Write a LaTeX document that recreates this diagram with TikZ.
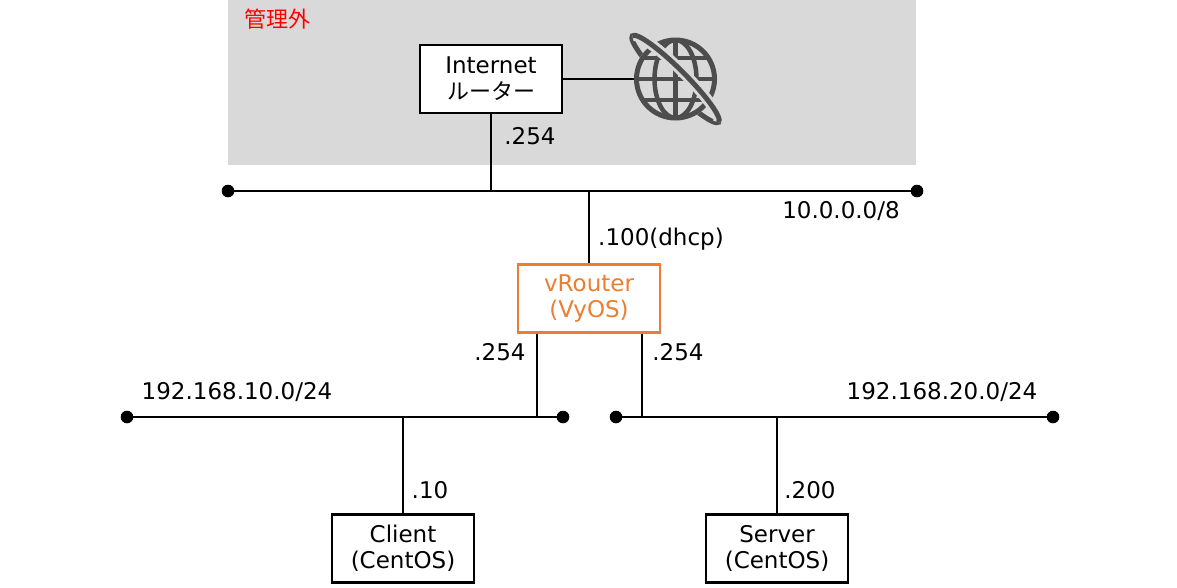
\documentclass[tikz,border=0pt]{standalone}
\usepackage{fontspec}
\setmainfont{DejaVu Sans}
\newfontfamily\cjk{Noto Sans CJK JP}
\definecolor{bggray}{HTML}{D9D9D9}
\definecolor{vyorange}{HTML}{ED7D31}
\definecolor{icongray}{HTML}{4D4D4D}
\tikzset{
  devbox/.style={draw, line width=2.4pt, fill=white, minimum width=142pt, minimum height=68pt, inner sep=0pt, align=center},
  net/.style={line width=1.3pt},
  lbl/.style={inner sep=0pt},
  iconline/.style={draw=icongray, line width=4.5pt}
}
\begin{document}
\begin{tikzpicture}[x=1pt,y=-1pt, font=\fontsize{23}{26}\selectfont]
\useasboundingbox (0,0) rectangle (1177,587);
\fill[bggray] (228,0) rectangle (916,165);
\node[lbl, text=red, font=\cjk\fontsize{22}{25}\selectfont] (outside) at (277,19) {管理外};

% devices
\node[devbox] (inet) at (491,79) {Internet\\{\cjk\fontsize{22}{26}\selectfont ルーター}};
\node[devbox, draw=vyorange, text=vyorange] (vr) at (589,298.5) {vRouter\\(VyOS)};
\node[devbox] (client) at (403,548.5) {Client\\(CentOS)};
\node[devbox] (server) at (777,548.5) {Server\\(CentOS)};

% globe icon
\draw[icongray, line width=5pt, rotate around={-45:(675.5,79)}] (675.5,79) ellipse[x radius=61, y radius=10];
\fill[bggray] (675.5,79) circle (41.5pt);
\node[circle, draw=icongray, line width=5pt, minimum size=78pt, inner sep=0pt] (globe) at (675.5,79) {};
\begin{scope}
  \clip (675.5,79) circle (39pt);
  \draw[iconline] (675.5,34) -- (675.5,124);
  \draw[iconline] (630,79) -- (720,79);
  \draw[iconline] (630,58) -- (720,58);
  \draw[iconline] (630,100) -- (720,100);
  \draw[iconline] (675.5,79) ellipse[x radius=21, y radius=39];
\end{scope}
\begin{scope}[rotate around={-45:(675.5,79)}]
  \draw[bggray, line width=11pt] (614.5,79) arc[start angle=180, end angle=360, x radius=61, y radius=10];
  \draw[icongray, line width=5pt] (614.5,79) arc[start angle=180, end angle=360, x radius=61, y radius=10];
\end{scope}

% network end points
\coordinate (d1L) at (228,191);
\coordinate (d1R) at (917,191);
\coordinate (d2L) at (127,417);
\coordinate (d2R) at (563,417);
\coordinate (d3L) at (616,417);
\coordinate (d3R) at (1053,417);
\foreach \p in {d1L,d1R,d2L,d2R,d3L,d3R} \fill (\p) circle (6.3pt);

% network lines
\draw[net] (d1L) -- (d1R);
\draw[net] (d2L) -- (d2R);
\draw[net] (d3L) -- (d3R);

% connectors
\draw[net] (inet.east) -- (globe.west);
\draw[net] (inet.south) -- (inet.south |- d1L);
\draw[net] (vr.north) -- (vr.north |- d1L);
\draw[net] ([xshift=-52pt]vr.south) -- ([xshift=-52pt]vr.south |- d2L);
\draw[net] ([xshift=53pt]vr.south) -- ([xshift=53pt]vr.south |- d3L);
\draw[net] (client.north) -- (client.north |- d2L);
\draw[net] (server.north) -- (server.north |- d3L);

% labels
\node[lbl] (a1) at (530,136) {.254};
\node[lbl] (net1) at (841,211) {10.0.0.0/8};
\node[lbl] (a2) at (661,239) {.100(dhcp)};
\node[lbl] (a3) at (500,352) {.254};
\node[lbl] (a4) at (678,352) {.254};
\node[lbl] (net2) at (237,392) {192.168.10.0/24};
\node[lbl] (net3) at (942,392) {192.168.20.0/24};
\node[lbl] (a5) at (430,490) {.10};
\node[lbl] (a6) at (810,490) {.200};
\end{tikzpicture}
\end{document}
